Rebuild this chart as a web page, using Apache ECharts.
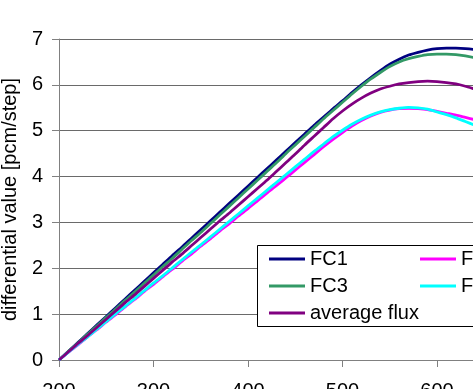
<!DOCTYPE html>
<html>
<head>
<meta charset="utf-8">
<script src="https://cdn.jsdelivr.net/npm/echarts@6/dist/echarts.min.js"></script>
<style>
  html, body { margin: 0; padding: 0; background: #fff; }
  #chart { width: 473px; height: 389px; }
</style>
</head>
<body>
<div id="chart"></div>
<script>
// x positions (rod position steps), shared by every series
const steps = [200, 210, 220, 230, 240, 250, 260, 270, 280, 290,
  300, 310, 320, 330, 340, 350, 360, 370, 380, 390,
  400, 410, 420, 430, 440, 450, 460, 470, 480, 490,
  500, 510, 520, 530, 540, 550, 560, 570, 580, 590,
  600, 610, 620, 630, 640, 650];

const fc1 = [0, 0.19, 0.38, 0.57, 0.76, 0.95, 1.14, 1.33, 1.52, 1.71,
  1.90, 2.09, 2.28, 2.46, 2.65, 2.84, 3.03, 3.22, 3.41, 3.60,
  3.79, 3.98, 4.17, 4.36, 4.55, 4.74, 4.93, 5.12, 5.30, 5.48,
  5.65, 5.83, 6.00, 6.16, 6.31, 6.45, 6.56, 6.65, 6.71, 6.76,
  6.79, 6.80, 6.80, 6.79, 6.77, 6.74];

const fc2 = [0, 0.17, 0.33, 0.50, 0.66, 0.83, 0.99, 1.16, 1.32, 1.49,
  1.65, 1.82, 1.98, 2.15, 2.31, 2.48, 2.64, 2.81, 2.97, 3.14,
  3.30, 3.47, 3.64, 3.80, 3.97, 4.14, 4.31, 4.48, 4.65, 4.81,
  4.96, 5.10, 5.22, 5.32, 5.40, 5.45, 5.48, 5.49, 5.48, 5.46,
  5.42, 5.38, 5.34, 5.29, 5.24, 5.19];

const fc3 = [0, 0.19, 0.37, 0.56, 0.74, 0.93, 1.11, 1.30, 1.48, 1.67,
  1.85, 2.04, 2.22, 2.41, 2.60, 2.78, 2.97, 3.16, 3.35, 3.54,
  3.73, 3.92, 4.11, 4.30, 4.50, 4.69, 4.88, 5.07, 5.26, 5.44,
  5.62, 5.80, 5.97, 6.13, 6.27, 6.40, 6.50, 6.57, 6.62, 6.66,
  6.67, 6.67, 6.66, 6.63, 6.59, 6.54];

const fc4 = [0, 0.17, 0.34, 0.50, 0.67, 0.84, 1.01, 1.17, 1.34, 1.51,
  1.68, 1.84, 2.01, 2.18, 2.35, 2.51, 2.68, 2.85, 3.02, 3.19,
  3.36, 3.53, 3.70, 3.87, 4.04, 4.21, 4.38, 4.55, 4.71, 4.87,
  5.01, 5.14, 5.25, 5.34, 5.41, 5.46, 5.49, 5.51, 5.50, 5.47,
  5.41, 5.35, 5.28, 5.20, 5.12, 5.04];

const avgFlux = [0, 0.18, 0.36, 0.53, 0.71, 0.89, 1.07, 1.25, 1.42, 1.60,
  1.78, 1.96, 2.14, 2.31, 2.49, 2.67, 2.85, 3.03, 3.20, 3.38,
  3.56, 3.74, 3.92, 4.11, 4.30, 4.49, 4.69, 4.88, 5.07, 5.26,
  5.43, 5.58, 5.71, 5.82, 5.91, 5.97, 6.02, 6.05, 6.07, 6.08,
  6.07, 6.05, 6.02, 5.97, 5.91, 5.85];

const seriesNames = ['FC1', 'FC2', 'FC3', 'FC4', 'average flux'];
const seriesColors = ['#000080', '#ff00ff', '#339966', '#00ffff', '#800080'];
const seriesValues = [fc1, fc2, fc3, fc4, avgFlux];

const FONT = 'Liberation Sans, Arial, sans-serif';

const chart = echarts.init(document.getElementById('chart'));

// legend is laid out as two columns inside a box that runs off the right edge
const legendSpots = [
  { left: 269, top: 249 }, { left: 420, top: 249 },
  { left: 269, top: 276 }, { left: 420, top: 276 },
  { left: 269, top: 303 }
];

const legends = seriesNames.map((name, i) => ({
  data: [name],
  left: legendSpots[i].left,
  top: legendSpots[i].top,
  padding: 0,
  icon: 'rect',
  itemWidth: 36,
  itemHeight: 3,
  z: 5,
  selectedMode: false,
  textStyle: { fontFamily: FONT, fontSize: 20, color: '#000' }
}));

chart.setOption({
  animation: false,
  // the plot runs past the right and bottom edges, as in the source crop
  grid: { left: 59, top: 39, bottom: 29, right: -58.5, outerBoundsMode: 'none', containLabel: false },
  graphic: [{
    type: 'rect',
    z: 3,
    shape: { x: 257.5, y: 245.5, width: 300, height: 81 },
    style: { fill: '#fff', stroke: '#000', lineWidth: 1 }
  }],
  legend: legends,
  xAxis: {
    type: 'value',
    min: 200,
    max: 700,
    interval: 100,
    axisLine: { lineStyle: { color: '#808080', width: 1 } },
    axisTick: { show: true, length: 7, lineStyle: { color: '#808080' } },
    splitLine: { show: false },
    axisLabel: { margin: 21, fontFamily: FONT, fontSize: 20, color: '#000' }
  },
  yAxis: {
    type: 'value',
    min: 0,
    max: 7,
    interval: 1,
    name: 'differential value [pcm/step]',
    nameLocation: 'middle',
    nameGap: 35,
    nameTextStyle: { fontFamily: FONT, fontSize: 20, color: '#000' },
    axisLine: { show: true, lineStyle: { color: '#808080', width: 1 } },
    axisTick: { show: true, length: 7, lineStyle: { color: '#808080' } },
    splitLine: { show: true, lineStyle: { color: '#6a6a6a', width: 1 } },
    axisLabel: { margin: 16, fontFamily: FONT, fontSize: 20, color: '#000' }
  },
  series: seriesNames.map((name, i) => ({
    name: name,
    type: 'line',
    showSymbol: false,
    smooth: 0.2,
    color: seriesColors[i],
    lineStyle: { width: 2.8, color: seriesColors[i] },
    data: steps.map((x, k) => [x, seriesValues[i][k]])
  }))
});
</script>
</body>
</html>
